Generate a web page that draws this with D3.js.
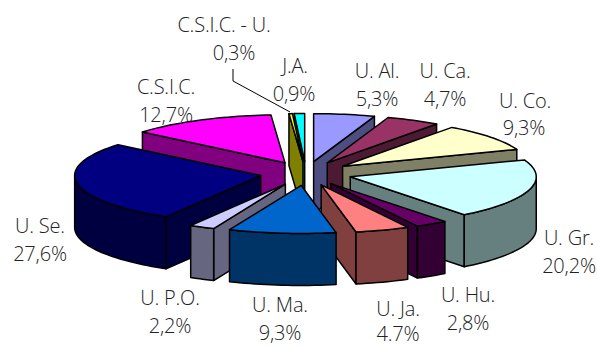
<!DOCTYPE html>
<html><head><meta charset="utf-8">
<script src="https://cdnjs.cloudflare.com/ajax/libs/d3/7.8.5/d3.min.js"></script>
<style>html,body{margin:0;padding:0;background:#fff}svg{display:block}
text{font-family:"Open Sans",sans-serif;font-weight:300;font-size:20px;letter-spacing:-0.2px;fill:#222;text-anchor:middle}</style>
</head><body><svg id="c" width="597" height="347"></svg>
<script>
const categories=["U. Al.","U. Ca.","U. Co.","U. Gr.","U. Hu.","U. Ja.","U. Ma.","U. P.O.","U. Se.","C.S.I.C.","C.S.I.C. - U.","J.A."];
const values=[5.3,4.7,9.3,20.2,2.8,4.7,9.3,2.2,27.6,12.7,0.3,0.9];
const valueLabels=["5,3%","4,7%","9,3%","20,2%","2,8%","4.7%","9,3%","2,2%","27,6%","12,7%","0,3%","0,9%"];
const topColors=["#9999FF","#993366","#FFFFCC","#CCFFFF","#660066","#FF8080","#0066CC","#CCCCFF","#000080","#FF00FF","#FFFF00","#00FFFF"];
const sideColors=["#4D4D80","#4D1A33","#808066","#668080","#330033","#804040","#003366","#666680","#000040","#800080","#808000","#008080"];
const nameX=[377,445,525,569,468,398,280,170,40,166,224,295];
const nameY=[78,78,108,245,302,316,312,305,233,94,32,73];
const valueX=[377,445,524,569,468,398,280,170,40,166,234,294];
const valueY=[106,106,135,273,330,341,340,333,261,122,60,101];
const leader=[[233,69],[233,81],[290,112]];

const cx=306,cy=173.5,rx=186,ry=48,ex=46,ey=12,depth=52;
const svg=d3.select("#c");
const arcs=d3.pie().sort(null).value(d=>d).startAngle(0).endAngle(2*Math.PI)(values);
const line=d3.line();
const pt=(o,a,r=1)=>[o[0]+rx*r*Math.sin(a),o[1]-ry*r*Math.cos(a)];
const down=p=>[p[0],p[1]+depth];

const slices=arcs.map((d,i)=>{
  const mid=(d.startAngle+d.endAngle)/2;
  const o=[cx+ex*Math.sin(mid),cy-ey*Math.cos(mid)];
  return {i,d,mid,o};
}).sort((a,b)=>Math.cos(b.mid)-Math.cos(a.mid));

function poly(g,pts,fill){
  g.append("path").attr("d",line(pts)+"Z").attr("fill",fill)
   .attr("stroke","#000").attr("stroke-width",1.5).attr("stroke-linejoin","round");
}
slices.forEach(s=>{
  const g=svg.append("g"),{d,o,i}=s;
  const n=Math.max(2,Math.ceil((d.endAngle-d.startAngle)/0.03));
  const aScale=d3.scaleLinear().domain([0,n]).range([d.startAngle,d.endAngle]);
  const rim=d3.range(n+1).map(k=>aScale(k));
  const side=sideColors[i];
  const st=pt(o,d.startAngle),en=pt(o,d.endAngle);
  if(en[0]>o[0]+0.01) poly(g,[o,en,down(en),down(o)],side);
  if(st[0]<o[0]-0.01) poly(g,[o,st,down(st),down(o)],side);
  if(d.startAngle<1.5*Math.PI&&d.endAngle>Math.PI/2){
    const a0=Math.max(d.startAngle,Math.PI/2),a1=Math.min(d.endAngle,1.5*Math.PI);
    const as=[a0,...rim.filter(a=>a>a0&&a<a1),a1];
    const topPts=as.map(a=>pt(o,a));
    poly(g,[...topPts,...topPts.slice().reverse().map(down)],side);
  }
  poly(g,[o,...rim.map(a=>pt(o,a))],topColors[i]);
});
svg.append("path").attr("d",line(leader)).attr("fill","none").attr("stroke","#000").attr("stroke-width",1);
categories.forEach((c,i)=>{
  svg.append("text").attr("x",nameX[i]).attr("y",nameY[i]).text(c);
  svg.append("text").attr("x",valueX[i]).attr("y",valueY[i]).text(valueLabels[i]);
});
</script></body></html>
